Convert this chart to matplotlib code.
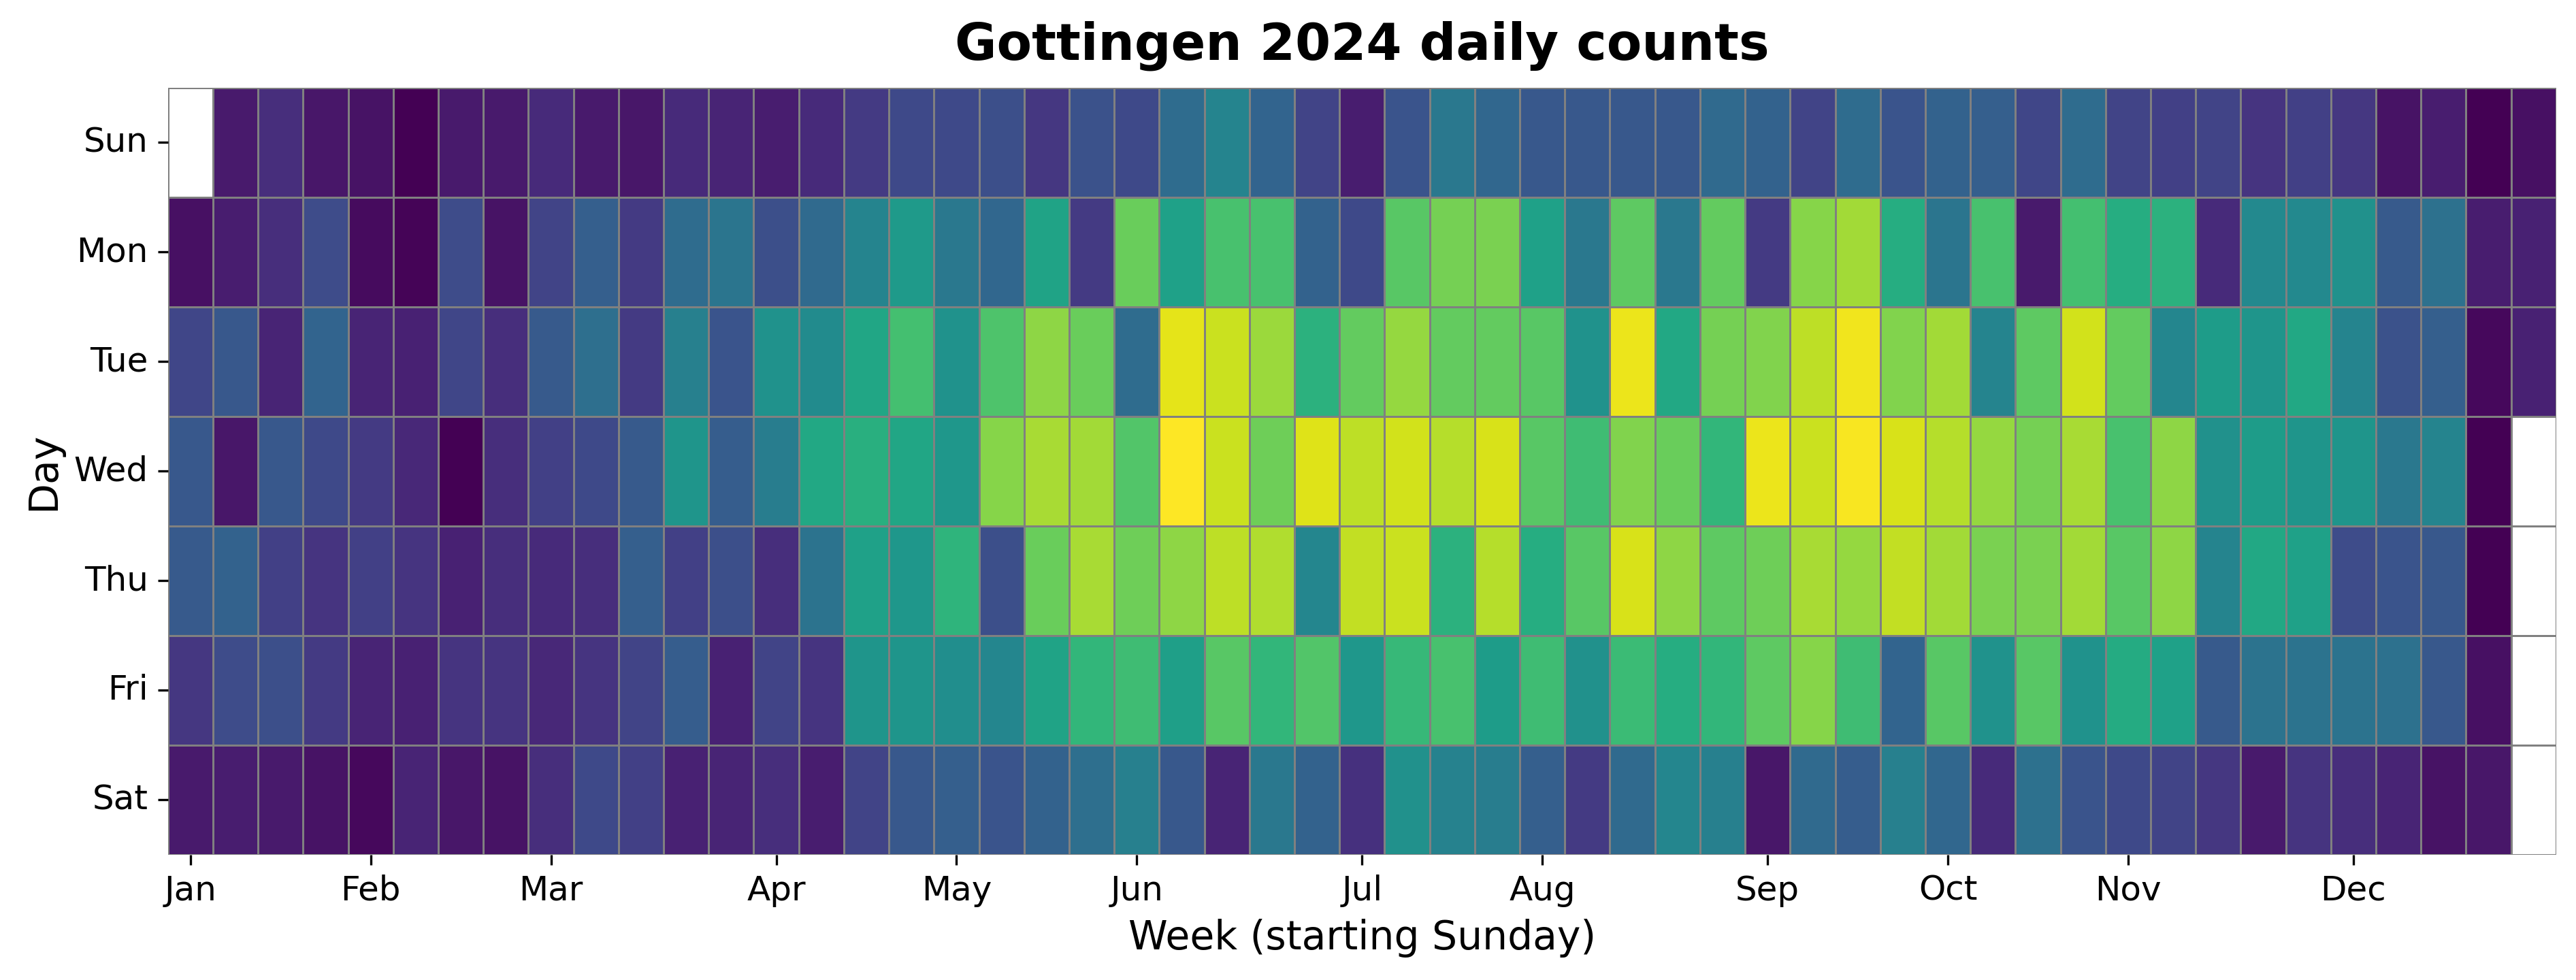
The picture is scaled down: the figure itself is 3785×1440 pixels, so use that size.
import numpy as np
import pandas as pd
import seaborn as sns
import matplotlib
matplotlib.use("Agg")
import matplotlib.pyplot as plt

# --- Daten: Tageswerte je Wochentag, eine Spalte pro Woche (Start Sonntag 31.12.2023) ---
days = ["Sun", "Mon", "Tue", "Wed", "Thu", "Fri", "Sat"]

sun = [None, 7, 13, 6, 5, 0, 7, 7, 12, 7, 6, 12, 10, 8, 12, 17, 22, 22, 24, 16, 25, 22, 35, 45, 32, 20, 8,
       26, 40, 33, 27, 27, 27, 27, 34, 31, 20, 35, 26, 31, 30, 21, 35, 20, 19, 20, 15, 19, 16, 5, 8, 0, 4]
mon = [4, 8, 13, 23, 3, 1, 23, 5, 20, 30, 17, 35, 39, 24, 34, 45, 54, 40, 33, 58, 17, 77, 57, 71, 71, 31, 22,
       74, 79, 80, 57, 40, 75, 40, 76, 17, 82, 86, 62, 39, 71, 7, 70, 62, 64, 12, 47, 47, 50, 28, 37, 8, 9]
tue = [21, 27, 10, 32, 10, 9, 21, 13, 28, 36, 17, 43, 26, 51, 48, 59, 70, 51, 72, 83, 77, 35, 96, 92, 85, 64, 76,
       84, 76, 76, 74, 51, 97, 60, 79, 81, 90, 98, 81, 86, 45, 75, 93, 76, 46, 55, 52, 60, 45, 25, 30, 2, 9]
wed = [27, 6, 27, 22, 17, 11, 0, 13, 19, 22, 28, 52, 29, 42, 60, 63, 59, 53, 82, 87, 86, 73, 100, 92, 78, 95, 90,
       93, 89, 94, 74, 69, 81, 77, 66, 97, 92, 99, 94, 89, 84, 79, 87, 71, 83, 50, 55, 52, 52, 40, 45, 0, None]
thu = [28, 31, 19, 15, 19, 15, 9, 13, 12, 13, 30, 19, 24, 13, 38, 57, 53, 65, 24, 77, 87, 78, 83, 90, 88, 46, 91,
       92, 64, 89, 62, 74, 94, 83, 75, 78, 87, 84, 91, 86, 80, 80, 86, 74, 83, 45, 60, 57, 23, 26, 27, 0, None]
fri = [16, 23, 24, 17, 10, 9, 15, 15, 11, 15, 20, 29, 9, 20, 15, 52, 52, 49, 46, 58, 66, 69, 56, 74, 66, 73, 53,
       67, 71, 55, 69, 50, 68, 62, 66, 75, 82, 69, 32, 74, 51, 74, 51, 61, 57, 28, 38, 38, 38, 37, 27, 4, None]
sat = [7, 8, 7, 5, 2, 10, 6, 5, 13, 22, 19, 9, 10, 13, 8, 20, 27, 30, 26, 31, 36, 43, 27, 10, 40, 31, 14,
       50, 44, 42, 30, 17, 34, 46, 43, 6, 34, 29, 43, 33, 12, 37, 26, 22, 20, 16, 7, 15, 13, 10, 5, 6, None]

months = ["Jan", "Feb", "Mar", "Apr", "May", "Jun", "Jul", "Aug", "Sep", "Oct", "Nov", "Dec"]

# ---------- Matrix aufbauen ----------
grid = np.array([[np.nan if v is None else v for v in row]
                 for row in [sun, mon, tue, wed, thu, fri, sat]], dtype=float)
df = pd.DataFrame(grid, index=days)

# Wochenindex fuer den Monatsersten
start = pd.Timestamp("2023-12-31")
firsts = pd.date_range("2024-01-01", periods=12, freq="MS")
month_weeks = [(d - start).days // 7 for d in firsts]

# ---------- Plot ----------
fig = plt.figure(figsize=(3785 / 300, 1440 / 300), dpi=300)
ax = fig.add_axes([0.0652, 0.1280, 0.9271, 0.7826])

sns.heatmap(df, cmap="viridis", linewidths=0.3, linecolor="gray", cbar=False, ax=ax)

ax.set_xticks(np.array(month_weeks) + 0.5)
ax.set_xticklabels(months, rotation=0, fontsize=12)
ax.set_yticks(np.arange(len(days)) + 0.5)
ax.set_yticklabels(days, rotation=0, fontsize=12)
ax.tick_params(axis="both", length=3.5, width=0.8)

ax.set_xlabel("Week (starting Sunday)", fontsize=14)
ax.set_ylabel("Day", fontsize=14)
ax.set_title("Gottingen 2024 daily counts", fontsize=18, fontweight="bold", pad=10)

fig.savefig("out.png", dpi=300)
